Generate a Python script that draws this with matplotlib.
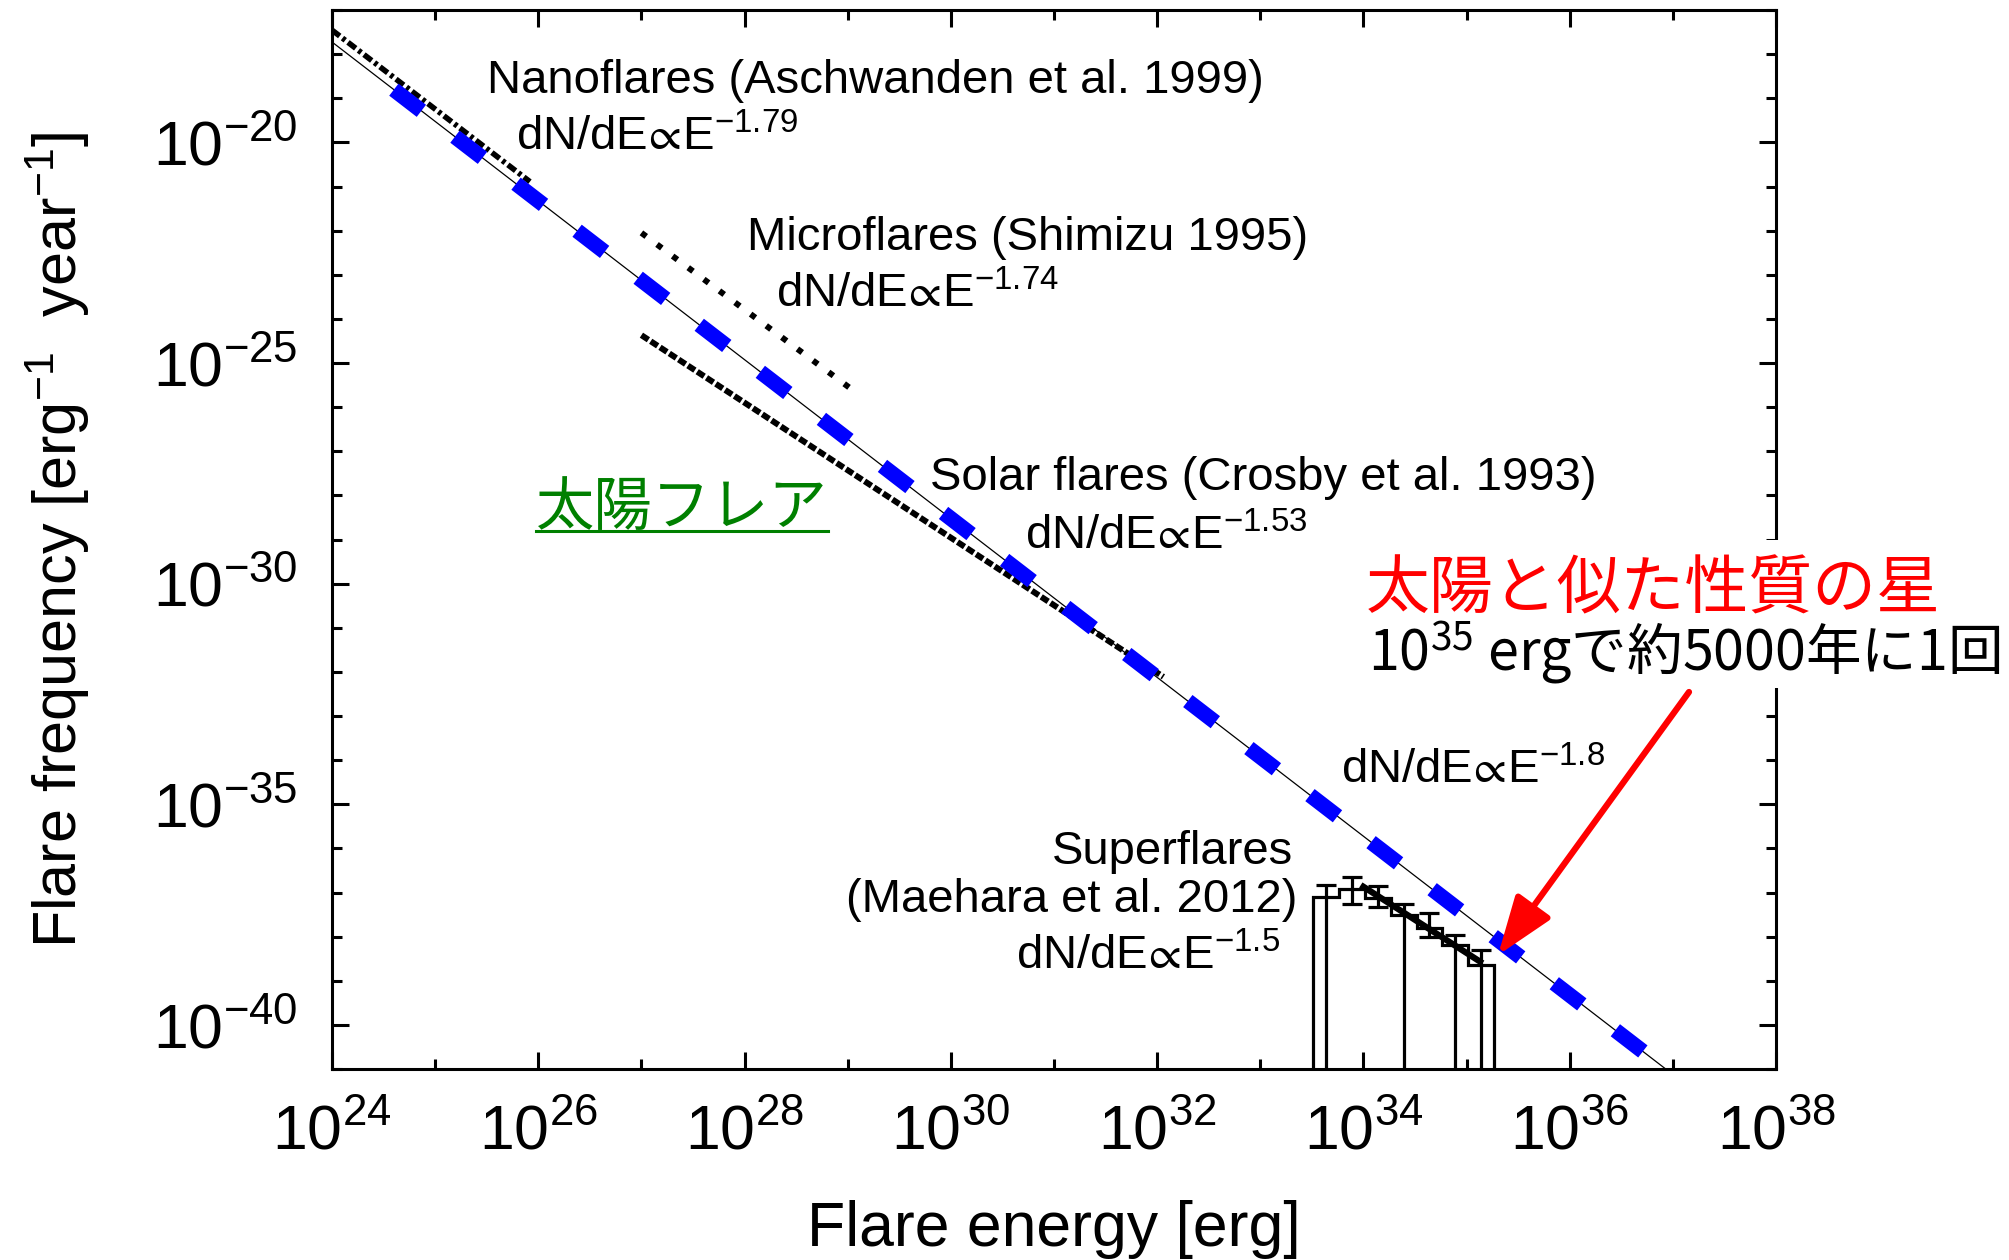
import matplotlib
matplotlib.use("Agg")
import matplotlib.pyplot as plt
from matplotlib.ticker import FixedLocator, LogFormatterSciNotation, NullFormatter
from matplotlib.lines import Line2D
from matplotlib.patches import Rectangle

plt.rcParams['font.family'] = ['Liberation Sans', 'DejaVu Sans']
plt.rcParams['mathtext.fontset'] = 'custom'
plt.rcParams['mathtext.rm'] = 'Liberation Sans'
plt.rcParams['mathtext.it'] = 'Liberation Sans:italic'
plt.rcParams['mathtext.bf'] = 'Liberation Sans:bold'
plt.rcParams['mathtext.sf'] = 'Liberation Sans'
plt.rcParams['mathtext.fallback'] = 'stixsans'
plt.rcParams['lines.scale_dashes'] = False

JP = ['Noto Sans CJK JP', 'DejaVu Sans']

# Power-law relations, given by their two end points
# (energy [erg], frequency [erg^-1 year^-1])
sun_like_E = [1e24, 1e38]
sun_like_F = [1.884e-18, 1.189e-43]
fit_E = [3.98e24, 5.62e36]
fit_F = [1.567e-19, 2.113e-41]
nano_E = [1e24, 8.3e25]
nano_F = [3.5e-18, 1.285e-21]
micro_E = [1e27, 1.23e29]
micro_F = [8.9e-23, 2.06e-26]
solar_E = [1e27, 1.15e32]
solar_F = [4.27e-25, 7.73e-33]
super_E = [1e34, 1.35e35]
super_F = [1.35e-37, 2.72e-39]

# Superflare frequency distribution (Maehara et al. 2012)
sf_edges = [3.27e33, 5.82e33, 1.035e34, 1.84e34, 3.27e34, 5.82e34, 1.035e35, 1.84e35]
sf_centers = [4.37e33, 7.76e33, 1.38e34, 2.45e34, 4.37e34, 7.76e34, 1.38e35]
sf_freq = [7.94e-38, 1.20e-37, 7.59e-38, 3.02e-38, 1.58e-38, 6.61e-39, 2.29e-39]
sf_upper = [1.48e-37, 2.21e-37, 1.38e-37, 5.37e-38, 3.39e-38, 1.07e-38, 5.01e-39]
sf_lower = [0.0, 5.37e-38, 4.79e-38, 0.0, 1.0e-38, 0.0, 0.0]

# Axis ticks
x_major = [1e24, 1e26, 1e28, 1e30, 1e32, 1e34, 1e36, 1e38]
x_minor = [10.0 ** k for k in range(24, 39)]
y_major = [1e-20, 1e-25, 1e-30, 1e-35, 1e-40]
y_minor = [10.0 ** -k for k in range(17, 42)]

fig = plt.figure(figsize=(20.09, 12.6), dpi=100)
ax = fig.add_axes([332 / 2009, 1 - 1069 / 1260, 1444 / 2009, 1059 / 1260])
ax.set_xscale('log')
ax.set_yscale('log')
ax.set_xlim(1e24, 1e38)
ax.set_ylim(1e-41, 1e-17)

ax.xaxis.set_major_locator(FixedLocator(x_major))
ax.xaxis.set_minor_locator(FixedLocator(x_minor))
ax.yaxis.set_major_locator(FixedLocator(y_major))
ax.yaxis.set_minor_locator(FixedLocator(y_minor))
ax.xaxis.set_major_formatter(LogFormatterSciNotation())
ax.yaxis.set_major_formatter(LogFormatterSciNotation())
ax.xaxis.set_minor_formatter(NullFormatter())
ax.yaxis.set_minor_formatter(NullFormatter())
ax.tick_params(which='both', direction='in', top=True, right=True, width=2.2, labelsize=45)
ax.tick_params(which='major', length=12)
ax.tick_params(which='minor', length=7)
ax.tick_params(axis='x', pad=25)
ax.tick_params(axis='y', pad=25)
for s in ax.spines.values():
    s.set_linewidth(2.2)

ax.set_xlabel('Flare energy [erg]', fontsize=45)
ax.set_ylabel(r'Flare frequency [erg$^{-1}$  year$^{-1}$]', fontsize=44)
ax.xaxis.set_label_coords(0.5, -0.124)
ax.yaxis.set_label_coords(-0.166, 0.5)

# Lines
ax.plot(sun_like_E, sun_like_F, color='black', lw=0.9, zorder=2)
ax.plot(nano_E, nano_F, color='black', lw=4, dashes=(7, 2.5, 2.5, 2.5), zorder=3)
ax.plot(micro_E, micro_F, color='black', lw=4.3, dashes=(4.3, 9.7), zorder=3)
ax.plot(solar_E, solar_F, color='black', lw=4.3, dashes=(6, 2), zorder=3)
ax.plot(fit_E, fit_F, color='#0000ff', lw=11, dashes=(25, 30.5), dash_capstyle='butt', zorder=4)

# Superflare histogram
ax.stairs(sf_freq, sf_edges, baseline=1e-45, color='black', lw=2.3, zorder=3)
err_lo = [f - lo for f, lo in zip(sf_freq, sf_lower)]
err_hi = [up - f for f, up in zip(sf_freq, sf_upper)]
ax.errorbar(sf_centers, sf_freq, yerr=[err_lo, err_hi], fmt='none', ecolor='black',
            elinewidth=2.3, capsize=7, capthick=2.3, zorder=3)
ax.plot(super_E, super_F, color='black', lw=4.5, zorder=3)

# Annotations
fs = 34
ax.text(10 ** 25.5, 10 ** -18.6, 'Nanoflares (Aschwanden et al. 1999)', fontsize=fs, va='center')
ax.text(10 ** 25.78, 10 ** -19.9, r'dN/dE$\!\propto\!$E$^{-1.79}$', fontsize=fs, va='center')
ax.text(10 ** 28.02, 10 ** -22.16, 'Microflares (Shimizu 1995)', fontsize=fs, va='center')
ax.text(10 ** 28.3, 10 ** -23.46, r'dN/dE$\!\propto\!$E$^{-1.74}$', fontsize=fs, va='center')
ax.text(10 ** 29.8, 10 ** -27.6, 'Solar flares (Crosby et al. 1993)', fontsize=fs, va='center')
ax.text(10 ** 30.72, 10 ** -28.95, r'dN/dE$\!\propto\!$E$^{-1.53}$', fontsize=fs, va='center')
ax.text(10 ** 33.78, 10 ** -34.25, r'dN/dE$\!\propto\!$E$^{-1.8}$', fontsize=fs, va='center')
ax.text(10 ** 33.32, 10 ** -36.08, 'Superflares', fontsize=fs, va='center', ha='right')
ax.text(10 ** 33.36, 10 ** -37.17, '(Maehara et al. 2012)', fontsize=fs, va='center', ha='right')
ax.text(10 ** 33.19, 10 ** -38.45, r'dN/dE$\!\propto\!$E$^{-1.5}$', fontsize=fs, va='center', ha='right')

sun_x, sun_y = 10 ** 25.98, 10 ** -28.67
sun_label = ax.text(sun_x, sun_y, '太陽フレア', fontsize=42, color='#008000',
                    family=JP, va='baseline')

# White panel behind the right-hand note
fig.add_artist(Rectangle((1360 / 2009, 1 - 688 / 1260), 649 / 2009, 148 / 1260,
                         transform=fig.transFigure, facecolor='white',
                         edgecolor='none', zorder=2))
fig.text(1366 / 2009, 0.517, '太陽と似た性質の星', fontsize=46, color='#ff0000',
         family=JP, va='baseline', zorder=3)
fig.text(1368 / 2009, 0.468, r'10$^{\mathdefault{35}}$ ergで約5000年に1回', fontsize=40,
         color='black', family=JP, va='baseline', zorder=3)

ax.annotate('', xy=(10 ** 35.305, 10 ** -38.42), xycoords='data',
            xytext=(1689 / 2009, 1 - 692 / 1260), textcoords='figure fraction',
            arrowprops=dict(arrowstyle='-|>,head_length=36,head_width=13',
                            mutation_scale=1, color='#ff0000', lw=4.5,
                            shrinkA=0, shrinkB=0),
            annotation_clip=False, zorder=6)

# Underline for the solar-flare label
fig.canvas.draw()
bb = sun_label.get_window_extent()
base_y = ax.transData.transform((sun_x, sun_y))[1]
fig.add_artist(Line2D([bb.x0, bb.x1], [base_y - 6, base_y - 6], transform=None,
                      color='#008000', lw=2.2))

fig.savefig('out.png', dpi=100)
